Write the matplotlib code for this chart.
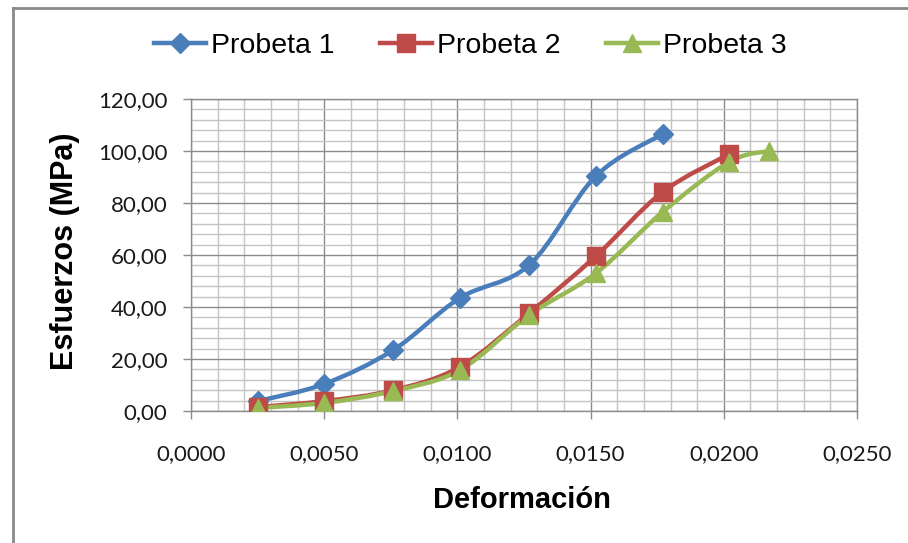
import matplotlib
matplotlib.use("Agg")
import matplotlib.pyplot as plt
import numpy as np
from matplotlib.path import Path
from matplotlib.patches import PathPatch
from matplotlib.lines import Line2D
from matplotlib.ticker import MultipleLocator, FuncFormatter

# ---------------- data ----------------
series_names = ["Probeta 1", "Probeta 2", "Probeta 3"]
x_p1 = [0.0025, 0.0050, 0.0076, 0.0101, 0.0127, 0.0152, 0.0177]
y_p1 = [3.8, 10.4, 23.5, 43.5, 56.2, 90.4, 106.5]
x_p2 = [0.0025, 0.0050, 0.0076, 0.0101, 0.0127, 0.0152, 0.0177, 0.0202]
y_p2 = [1.5, 3.8, 8.0, 17.0, 37.7, 59.6, 84.2, 98.8]
x_p3 = [0.0025, 0.0050, 0.0076, 0.0101, 0.0127, 0.0152, 0.0177, 0.0202, 0.0217]
y_p3 = [1.2, 3.1, 7.7, 15.8, 37.0, 53.0, 76.5, 95.8, 100.0]
x_ticks = [0.0, 0.005, 0.010, 0.015, 0.020, 0.025]
y_ticks = [0, 20, 40, 60, 80, 100, 120]

colors = ["#4A7EBB", "#BE4B48", "#98B954"]
markers = ["D", "s", "^"]
msizes = [10.5, 13, 13]

W, H = 908, 543
fig = plt.figure(figsize=(W / 100, H / 100), dpi=100)
ax = fig.add_axes([191 / W, 1 - 411 / H, (857 - 191) / W, (411 - 99) / H])

def smooth_path(xs, ys):
    pts = np.column_stack([xs, ys]).astype(float)
    n = len(pts)
    verts = [pts[0]]
    codes = [Path.MOVETO]
    for i in range(n - 1):
        p0 = pts[i - 1] if i > 0 else pts[i]
        p1 = pts[i]
        p2 = pts[i + 1]
        p3 = pts[i + 2] if i + 2 < n else pts[i + 1]
        c1 = p1 + (p2 - p0) / 6.0
        c2 = p2 - (p3 - p1) / 6.0
        verts += [c1, c2, p2]
        codes += [Path.CURVE4] * 3
    return Path(verts, codes)

data = [(x_p1, y_p1), (x_p2, y_p2), (x_p3, y_p3)]
handles = []
for (xs, ys), c, m, ms, name in zip(data, colors, markers, msizes, series_names):
    patch = PathPatch(smooth_path(xs, ys), facecolor="none", edgecolor=c,
                      lw=3.2, capstyle="round", joinstyle="round", zorder=3)
    ax.add_patch(patch)
    ax.plot(xs, ys, linestyle="none", marker=m, color=c, markersize=ms,
            markeredgecolor=c, zorder=4)
    handles.append(Line2D([0], [0], color=c, lw=3.2, marker=m,
                          markersize=ms, markeredgecolor=c))

ax.set_xlim(0, 0.025)
ax.set_ylim(0, 120)
ax.set_xticks(x_ticks)
ax.set_yticks(y_ticks)
ax.xaxis.set_minor_locator(MultipleLocator(0.001))
ax.yaxis.set_minor_locator(MultipleLocator(4))
ax.xaxis.set_major_formatter(FuncFormatter(lambda v, p: f"{v:.4f}".replace(".", ",")))
ax.yaxis.set_major_formatter(FuncFormatter(lambda v, p: f"{v:.2f}".replace(".", ",")))

ax.grid(which="minor", color="#C4C4C4", lw=1.0, zorder=0)
ax.grid(which="major", color="#8C8C8C", lw=1.0, zorder=1)
ax.set_axisbelow(True)
for s in ax.spines.values():
    s.set_color("#8C8C8C")
    s.set_linewidth(1.0)

ax.tick_params(axis="both", which="major", length=6, width=1, color="#8C8C8C",
               direction="out")
ax.tick_params(axis="x", which="major", pad=18)
ax.tick_params(axis="y", which="major", pad=11)
ax.tick_params(which="minor", length=0)
for lab in ax.get_xticklabels() + ax.get_yticklabels():
    lab.set_fontfamily("Lato")
    lab.set_fontsize(16)
    lab.set_color("#1a1a1a")

fig.text(65 / W, 1 - 251 / H, "Esfuerzos (MPa)", rotation=90, ha="center",
         va="center", fontsize=22, fontweight="bold", family="Liberation Sans")
fig.text(522 / W, 1 - 500 / H, "Deformación", ha="center", va="center",
         fontsize=21, fontweight="bold", family="Liberation Sans")

leg = fig.legend(handles, series_names, loc="center", ncol=3,
                 bbox_to_anchor=(470 / W, 1 - 46 / H), frameon=False,
                 prop=dict(family="Liberation Sans", size=20.5),
                 handlelength=1.85, handletextpad=0.15, columnspacing=1.6)

# outer chart frame (left and top edges visible)
fig.add_artist(Line2D([13 / W, 13 / W], [0, 1 - 8 / H], color="#8A8A8A", lw=2,
                      transform=fig.transFigure))
fig.add_artist(Line2D([13 / W, 1], [1 - 8 / H, 1 - 8 / H], color="#8A8A8A", lw=2,
                      transform=fig.transFigure))

fig.savefig("out.png", dpi=100)
